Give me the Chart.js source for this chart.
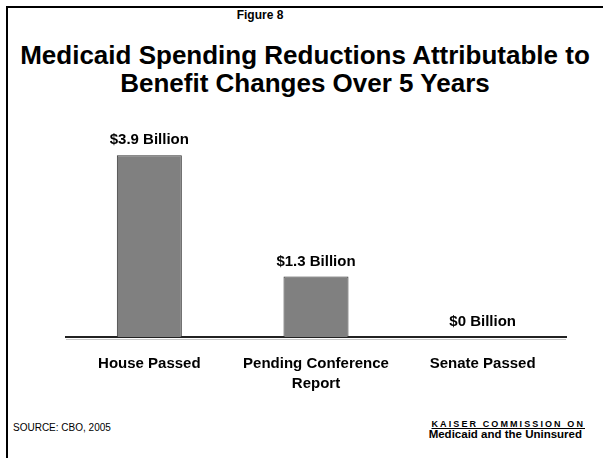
<!DOCTYPE html>
<html>
<head>
<meta charset="utf-8">
<script src="https://cdn.jsdelivr.net/npm/chart.js@4/dist/chart.umd.min.js"></script>
<style>
  body { margin: 0; background: #fff; font-family: "Liberation Sans", Arial, sans-serif; }
  #page { position: relative; width: 603px; height: 458px; overflow: hidden; background: #fff; }
  #marco { position: absolute; left: 6px; top: 6px; right: -10px; bottom: -10px; border-top: 2px solid #000; border-left: 2px solid #000; }
  .txt { position: absolute; color: #000; white-space: nowrap; }
  #figura { left: 200px; width: 120px; top: 8px; text-align: center; font-weight: bold; font-size: 12px; line-height: 14px; }
  #titulo { left: 0; width: 610px; top: 41px; text-align: center; font-weight: bold; font-size: 26px; line-height: 28px; }
  #fuente { left: 13px; top: 421px; font-size: 10px; line-height: 14px; }
  #kaiser1 { right: 18px; top: 419px; font-weight: bold; font-size: 9px; letter-spacing: 2.1px; text-decoration: underline; line-height: 11px; }
  #kaiser2 { right: 21px; top: 428px; font-weight: bold; font-size: 11.5px; line-height: 13px; }
  #grafica { position: absolute; left: 0; top: 100px; }
</style>
</head>
<body>
<div id="page">
  <div id="marco"></div>
  <div class="txt" id="figura">Figure 8</div>
  <div class="txt" id="titulo">Medicaid Spending Reductions Attributable to<br>Benefit Changes Over 5 Years</div>
  <canvas id="grafica" width="603" height="310"></canvas>
  <div class="txt" id="fuente">SOURCE: CBO, 2005</div>
  <div class="txt" id="kaiser1">KAISER COMMISSION ON</div>
  <div class="txt" id="kaiser2">Medicaid and the Uninsured</div>
</div>
<script>
// datos de la grafica
const categorias = [["House Passed"], ["Pending Conference", "Report"], ["Senate Passed"]];
const valores = [3.9, 1.3, 0];
const etiquetas = ["$3.9 Billion", "$1.3 Billion", "$0 Billion"];

// pinta las etiquetas encima de cada barra
const etiquetasBarras = {
  id: "etiquetasBarras",
  afterDatasetsDraw(chart) {
    const ctx = chart.ctx;
    const meta = chart.getDatasetMeta(0);
    ctx.save();
    ctx.font = "bold 15px 'Liberation Sans', Arial, sans-serif";
    ctx.fillStyle = "#000";
    ctx.textAlign = "center";
    ctx.textBaseline = "middle";
    meta.data.forEach((barra, i) => {
      ctx.fillText(etiquetas[i], barra.x, barra.y - 15);
    });
    ctx.restore();
  }
};

// linea gris debajo del eje (sombra)
const sombraEje = {
  id: "sombraEje",
  beforeDatasetsDraw(chart) {
    const a = chart.chartArea;
    const ctx = chart.ctx;
    ctx.save();
    ctx.strokeStyle = "#c8c8c8";
    ctx.lineWidth = 1;
    ctx.beginPath();
    ctx.moveTo(a.left, a.bottom + 2.5);
    ctx.lineTo(a.right, a.bottom + 2.5);
    ctx.stroke();
    ctx.restore();
  }
};

const data = {
  labels: categorias,
  datasets: [{
    data: valores,
    backgroundColor: "#808080",
    borderColor: "#333",
    borderWidth: 1,
    barPercentage: 0.39,
    categoryPercentage: 1
  }]
};

const config = {
  type: "bar",
  data: data,
  options: {
    responsive: false,
    animation: false,
    layout: { padding: { left: 66, right: 37, top: 32, bottom: 13 } },
    plugins: { legend: { display: false }, tooltip: { enabled: false } },
    scales: {
      x: {
        grid: { display: false, drawTicks: false },
        border: { display: true, color: "#222", width: 2 },
        ticks: {
          color: "#000",
          padding: 17,
          maxRotation: 0,
          autoSkip: false,
          font: { family: "'Liberation Sans', Arial, sans-serif", size: 15, weight: "bold", lineHeight: 1.33 }
        },
        afterFit: (escala) => { escala.height = 60; }
      },
      y: { display: false, min: 0, max: 4.4 }
    }
  },
  plugins: [sombraEje, etiquetasBarras]
};

var miGrafica = new Chart(document.getElementById("grafica"), config);
</script>
</body>
</html>
